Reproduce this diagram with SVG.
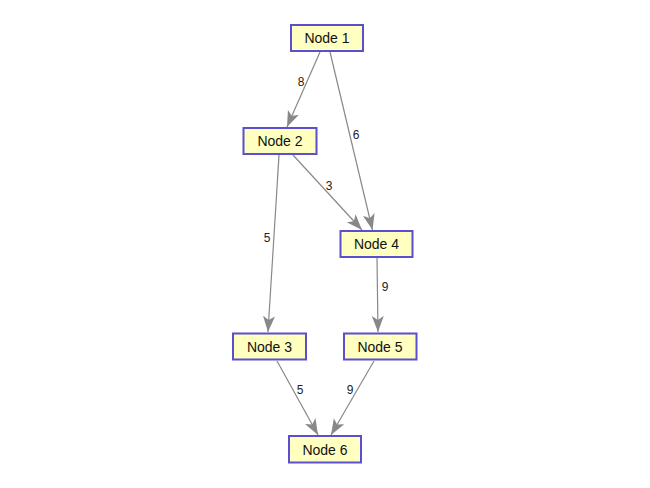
<svg xmlns="http://www.w3.org/2000/svg" width="650" height="488" viewBox="0 0 650 488">
<style>
.node rect{fill:#ffffbf;stroke:#5a4fcf;stroke-width:2}
.node text{font-family:"Liberation Sans",Arial,sans-serif;font-size:14px;fill:#111;text-anchor:middle}
.edges line{stroke:#888;stroke-width:1.2;marker-end:url(#ah)}
.lbl{font-family:"Liberation Sans",Arial,sans-serif;font-size:12px;fill:#222;text-anchor:middle}
</style>
<defs>
<marker id="ah" markerUnits="userSpaceOnUse" markerWidth="18" markerHeight="14" refX="16" refY="6" orient="auto" viewBox="0 0 18 12">
<path d="M0,0 L16,6 L0,12 L4,6 Z" fill="#888"/>
</marker>
</defs>
<rect width="650" height="488" fill="#fff"/>
<g class="edges">
<line x1="320" y1="52" x2="287" y2="127"/>
<line x1="330" y1="52" x2="372.5" y2="230"/>
<line x1="279" y1="155" x2="268" y2="332"/>
<line x1="293" y1="155" x2="362" y2="230"/>
<line x1="377" y1="258" x2="378" y2="332"/>
<line x1="277" y1="361" x2="318" y2="435"/>
<line x1="374" y1="361" x2="331" y2="435"/>
<text class="lbl" x="301" y="86">8</text>
<text class="lbl" x="356" y="139">6</text>
<text class="lbl" x="267" y="242">5</text>
<text class="lbl" x="329" y="190">3</text>
<text class="lbl" x="385" y="291">9</text>
<text class="lbl" x="300" y="394">5</text>
<text class="lbl" x="350" y="394">9</text>
</g>
<g id="node1" class="node"><rect x="291" y="25" width="72" height="26"/><text x="327" y="43">Node 1</text></g>
<g id="node2" class="node"><rect x="243.5" y="128" width="73" height="26"/><text x="280" y="146">Node 2</text></g>
<g id="node3" class="node"><rect x="233" y="333.5" width="73" height="26"/><text x="269.5" y="351.5">Node 3</text></g>
<g id="node4" class="node"><rect x="340.5" y="231" width="72" height="26"/><text x="376.5" y="249">Node 4</text></g>
<g id="node5" class="node"><rect x="344" y="333.5" width="72.5" height="26"/><text x="380" y="351.5">Node 5</text></g>
<g id="node6" class="node"><rect x="289" y="436" width="72" height="26.5"/><text x="325" y="454.5">Node 6</text></g>
</svg>
